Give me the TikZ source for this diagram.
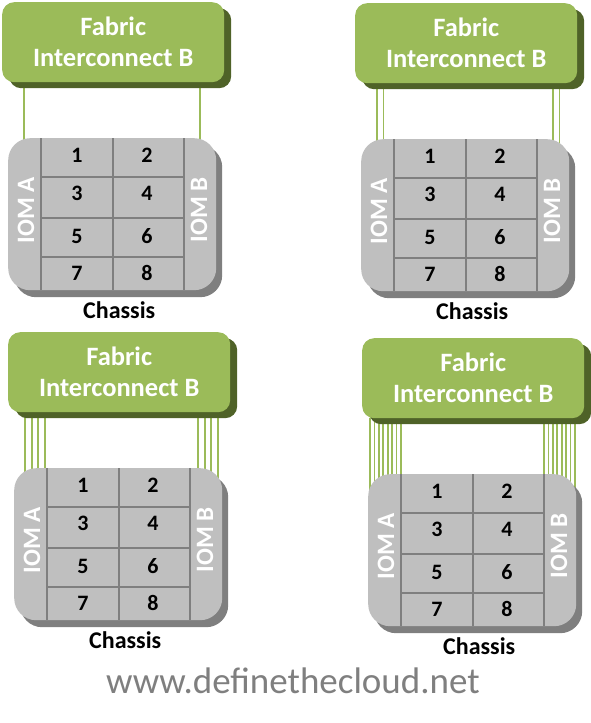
\documentclass[tikz,border=0pt]{standalone}
\usepackage{fontspec}
\setmainfont{Carlito}
\usetikzlibrary{shadows,backgrounds}
\definecolor{figreen}{HTML}{9BBB59}
\definecolor{fidark}{HTML}{4F6228}
\definecolor{chgray}{HTML}{BFBFBF}
\definecolor{chshade}{HTML}{7F7F7F}
\definecolor{sitegray}{HTML}{7F7F7F}

\begin{document}
\begin{tikzpicture}[
    x=1pt, y=-1pt,
    fi box/.style={fill=figreen, rounded corners=12pt, minimum width=222pt,
      minimum height=80pt, anchor=north west, align=center, text=white,
      font=\bfseries\fontsize{26.5}{31}\selectfont,
      drop shadow={shadow xshift=7pt, shadow yshift=-6pt, fill=fidark, opacity=1}},
    chassis/.style={fill=chgray, rounded corners=22pt, minimum width=208pt,
      minimum height=152pt, anchor=north west,
      drop shadow={shadow xshift=6pt, shadow yshift=-7pt, fill=chshade, opacity=1}},
    divider/.style={draw=chshade, line width=2.5pt},
    link/.style={draw=figreen, line width=1.8pt},
    slot/.style={font=\bfseries\fontsize{22}{22}\selectfont},
    iom/.style={rotate=90, text=white, font=\bfseries\fontsize{25}{25}\selectfont},
    caption/.style={font=\bfseries\fontsize{24}{24}\selectfont},
    site/.style={text=sitegray, font=\fontsize{37}{37}\selectfont}
  ]
  \useasboundingbox (0,0) rectangle (591,723);

  % four panels: origin, number of links, link gap, first left / right link
  \foreach \px/\py/\nl/\lg/\ll/\lr [count=\i] in
    {2/2/1/0/22/198, 355/3/2/6.5/22/198, 8/332/4/6.6/17/190, 362/338/8/4.4/8/182} {
    \begin{scope}[shift={(\px,\py)}]
      \node[fi box] (fi\i) at (0,0) {Fabric\\Interconnect B};
      \node[chassis] (ch\i) at (6,136) {};

      % slot dividers
      \foreach \dx in {33,105,176}
        \draw[divider] ([xshift=\dx pt]ch\i.north west) -- ([xshift=\dx pt]ch\i.south west);
      \foreach \dy in {39,80,119}
        \draw[divider] ([shift={(33pt,-\dy pt)}]ch\i.north west)
          -- ([shift={(176pt,-\dy pt)}]ch\i.north west);

      \foreach \n/\sx/\sy in {1/69/17, 2/139/17, 3/69/55, 4/139/55,
                              5/69/98, 6/139/98, 7/69/135, 8/139/135}
        \node[slot] (s\i\n) at ([shift={(\sx pt,-\sy pt)}]ch\i.north west) {\n};

      \node[iom] (ioma\i) at ([shift={(18pt,-72pt)}]ch\i.north west) {IOM A};
      \node[iom] (iomb\i) at ([shift={(191pt,-72pt)}]ch\i.north west) {IOM B};
      \node[caption] (lbl\i) at ([shift={(7pt,-20pt)}]ch\i.south) {Chassis};

      % uplinks
      \begin{scope}[on background layer]
        \foreach \k in {1,...,\nl} {
          \pgfmathsetmacro{\xa}{\ll+(\k-1)*\lg}
          \pgfmathsetmacro{\xb}{\lr+(\k-1)*\lg}
          \draw[link] (fi\i.south -| \xa,0) -- (ch\i.center -| \xa,0);
          \draw[link] (fi\i.south -| \xb,0) -- (ch\i.center -| \xb,0);
        }
      \end{scope}
    \end{scope}
  }

  \node[site] (site) at (293,681) {www.definethecloud.net};
\end{tikzpicture}
\end{document}
